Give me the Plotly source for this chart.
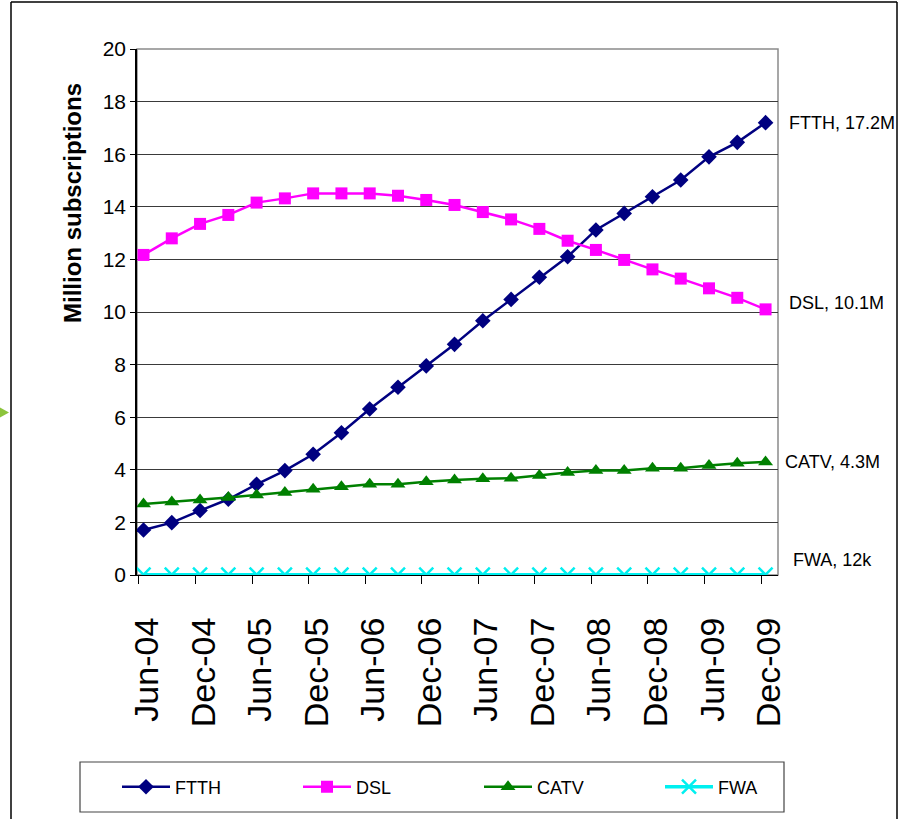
import plotly.graph_objects as go

# Quarterly broadband subscriptions (millions), Jun-04 .. Dec-09
quarters = ["Jun-04", "Sep-04", "Dec-04", "Mar-05", "Jun-05", "Sep-05", "Dec-05", "Mar-06",
            "Jun-06", "Sep-06", "Dec-06", "Mar-07", "Jun-07", "Sep-07", "Dec-07", "Mar-08",
            "Jun-08", "Sep-08", "Dec-08", "Mar-09", "Jun-09", "Sep-09", "Dec-09"]
ftth = [1.71, 1.99, 2.45, 2.88, 3.45, 3.97, 4.59, 5.41, 6.31, 7.14, 7.95, 8.77,
        9.67, 10.48, 11.32, 12.10, 13.12, 13.75, 14.38, 15.02, 15.90, 16.45, 17.2]
dsl = [12.17, 12.80, 13.35, 13.69, 14.16, 14.32, 14.51, 14.51, 14.51, 14.42, 14.26, 14.07,
       13.80, 13.52, 13.16, 12.71, 12.36, 11.98, 11.62, 11.27, 10.90, 10.54, 10.1]
catv = [2.70, 2.78, 2.85, 2.95, 3.04, 3.14, 3.26, 3.36, 3.45, 3.45, 3.55, 3.61,
        3.66, 3.68, 3.78, 3.90, 3.97, 3.97, 4.06, 4.06, 4.16, 4.25, 4.3]
fwa = [0.01, 0.01, 0.01, 0.01, 0.01, 0.01, 0.01, 0.01, 0.01, 0.01, 0.01, 0.01,
       0.01, 0.01, 0.01, 0.01, 0.01, 0.01, 0.01, 0.01, 0.01, 0.01, 0.012]
end_labels = ["FTTH, 17.2M", "DSL, 10.1M", "CATV, 4.3M", "FWA, 12k"]
tick_labels = ["Jun-04", "Dec-04", "Jun-05", "Dec-05", "Jun-06", "Dec-06",
               "Jun-07", "Dec-07", "Jun-08", "Dec-08", "Jun-09", "Dec-09"]

W, H = 904, 819
ML, MR, MT, MB = 137, 126, 49, 244
PW, PH = W - ML - MR, H - MT - MB


def px_x(p):
    return (p - ML) / PW


def px_y(p):
    return (H - MB - p) / PH


idx = list(range(len(quarters)))
FONT = "Liberation Sans, Arial, sans-serif"

series = [
    ("FTTH", ftth, "#000080", dict(symbol="diamond", size=12)),
    ("DSL", dsl, "#FF00FF", dict(symbol="square", size=12)),
    ("CATV", catv, "#008000", dict(symbol="triangle-up", size=13)),
    ("FWA", fwa, "#00F0F0", dict(symbol="x-thin-open", size=14, line=dict(width=2.5, color="#00F0F0"))),
]

fig = go.Figure()
for name, vals, col, mk in series:
    fig.add_trace(go.Scatter(
        x=idx, y=vals, name=name, mode="lines+markers",
        text=quarters, hovertemplate="%{text}: %{y}<extra>" + name + "</extra>",
        line=dict(color=col, width=3.5 if name == "FWA" else 2.5),
        marker=dict(color=col, **mk),
    ))

# value labels at the right end of each line
label_x = [787, 787, 783, 791]
shifts = [0, 6, 0, 15]
for (name, vals, col, mk), lab, lx, ys in zip(series, end_labels, label_x, shifts):
    fig.add_annotation(x=px_x(lx), xref="paper", y=vals[-1], yref="y", yshift=ys,
                       text=lab, showarrow=False, xanchor="left", yanchor="middle",
                       font=dict(family=FONT, size=18, color="#000"))

# y-axis title
fig.add_annotation(x=px_x(73), xref="paper", y=px_y(203), yref="paper",
                   xanchor="center", yanchor="middle",
                   text="<b>Million subscriptions</b>", textangle=-90, showarrow=False,
                   font=dict(family=FONT, size=24, color="#000"))

shapes = [
    # plot area frame
    dict(type="rect", xref="paper", yref="paper", x0=0, x1=1, y0=0, y1=1,
         line=dict(color="#8a8a8a", width=1.5), layer="below"),
    # legend box
    dict(type="rect", xref="paper", yref="paper", x0=px_x(80), x1=px_x(784),
         y0=px_y(812), y1=px_y(762), line=dict(color="#444", width=1.2)),
    # outer slide frame: top, left and right edges
    dict(type="line", xref="paper", yref="paper", x0=px_x(11), x1=px_x(897),
         y0=px_y(2), y1=px_y(2), line=dict(color="#000", width=1.5)),
    dict(type="line", xref="paper", yref="paper", x0=px_x(11), x1=px_x(11),
         y0=px_y(2), y1=px_y(819), line=dict(color="#000", width=1.5)),
    dict(type="line", xref="paper", yref="paper", x0=px_x(897), x1=px_x(897),
         y0=px_y(2), y1=px_y(819), line=dict(color="#000", width=1.5)),
    # bullet arrow at left edge
    dict(type="path", xref="paper", yref="paper", fillcolor="#8CC43C", line=dict(width=0),
         path="M {} {} L {} {} L {} {} Z".format(px_x(-6), px_y(404), px_x(9), px_y(412.5),
                                                 px_x(-6), px_y(421))),
]

fig.update_layout(
    width=W, height=H,
    margin=dict(l=ML, r=MR, t=MT, b=MB),
    paper_bgcolor="white", plot_bgcolor="white",
    showlegend=True,
    legend=dict(orientation="h", x=px_x(117), xanchor="left", y=px_y(787), yanchor="middle",
                itemwidth=48, entrywidth=118, entrywidthmode="pixels",
                bgcolor="rgba(0,0,0,0)", borderwidth=0,
                font=dict(family=FONT, size=18, color="#000"), traceorder="normal"),
    shapes=shapes,
    xaxis=dict(
        range=[-0.23, 22.44], showgrid=False, zeroline=False,
        showline=True, linecolor="#000", linewidth=1.2,
        tickmode="array", tickvals=[-0.16 + 2 * k for k in range(len(tick_labels))],
        ticktext=tick_labels, tickangle=-90, ticks="outside", ticklen=8,
        tickcolor="#000", ticklabelstandoff=20, ticklabelshift=8,
        tickfont=dict(family=FONT, size=34, color="#000"),
    ),
    yaxis=dict(
        range=[0, 20], dtick=2, showgrid=True, gridcolor="#3a3a3a", gridwidth=1,
        zeroline=False, showline=True, linecolor="#000", linewidth=1.5,
        ticks="outside", ticklen=5, tickcolor="#000",
        tickfont=dict(family=FONT, size=21, color="#000"),
    ),
)

fig.write_html("out.html")
